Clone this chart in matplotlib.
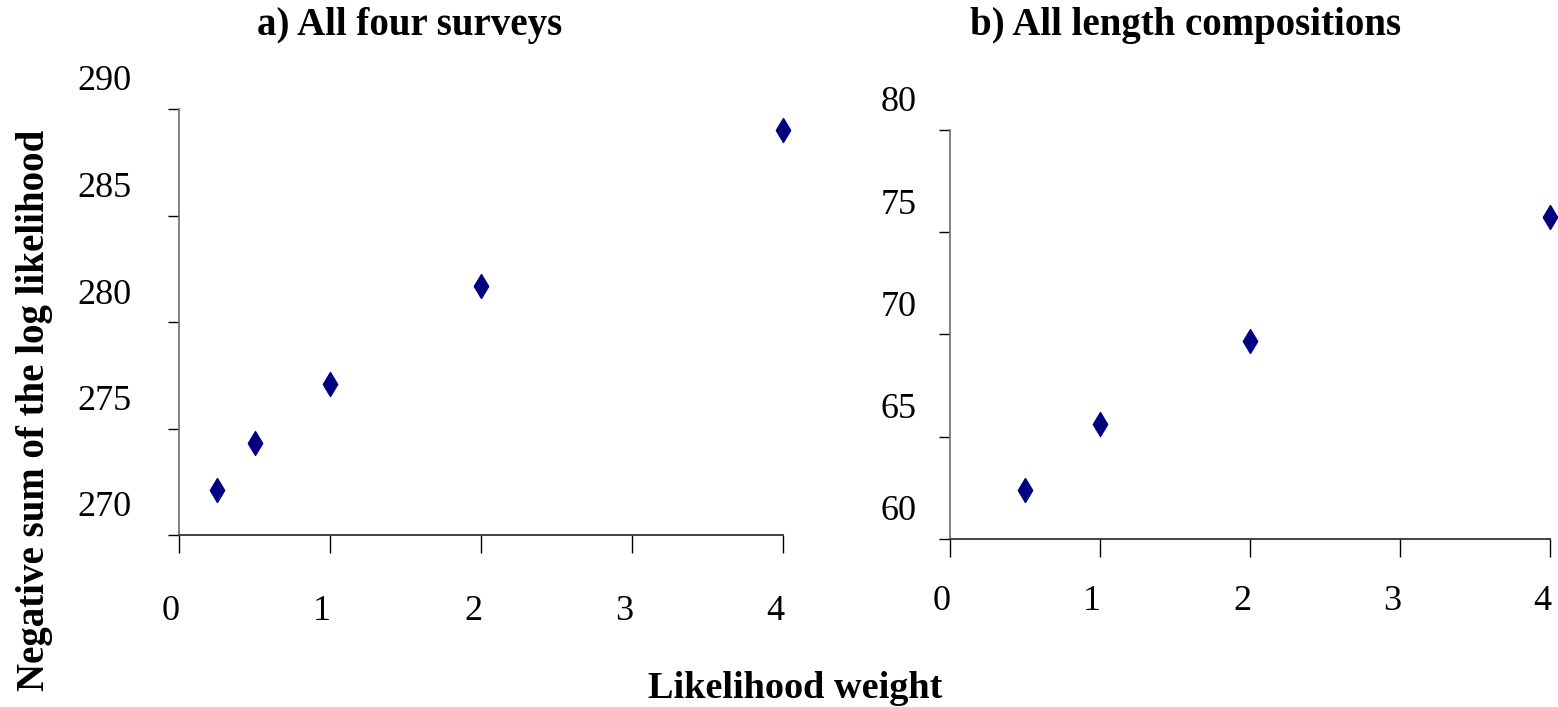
import matplotlib
matplotlib.use("Agg")
import matplotlib.pyplot as plt
import matplotlib.transforms as mtransforms

# panel a) all four surveys
weights_a = [0.25, 0.5, 1, 2, 4]
nll_a = [272.1, 274.3, 277.1, 281.7, 289.0]

# panel b) all length compositions
weights_b = [0.5, 1, 2, 4]
nll_b = [62.4, 65.6, 69.7, 75.75]

yticks_a = [270, 275, 280, 285, 290]
yticks_b = [60, 65, 70, 75, 80]
xticks = [0, 1, 2, 3, 4]

plt.rcParams['font.family'] = ['Liberation Serif', 'DejaVu Serif']

fig = plt.figure(figsize=(15.58, 7.07), dpi=100)
ax_a = fig.add_axes([179 / 1558, 1 - 535 / 707, 604 / 1558, 426 / 707])
ax_b = fig.add_axes([950 / 1558, 1 - 539 / 707, 600 / 1558, 409 / 707])


def style_axis(ax, yticks, ypad, xpad):
    ax.set_xlim(0, 4)
    ax.set_ylim(yticks[0], yticks[-1])
    ax.set_xticks(xticks)
    ax.set_yticks(yticks)
    ax.set_xticklabels([str(t) for t in xticks])
    ax.set_yticklabels([str(t) for t in yticks])
    for side in ['top', 'right']:
        ax.spines[side].set_visible(False)
    ax.spines['left'].set_color('#777777')
    ax.spines['bottom'].set_color('#333333')
    ax.spines['left'].set_linewidth(1.3)
    ax.spines['bottom'].set_linewidth(1.3)
    ax.tick_params(axis='y', direction='out', length=8, width=1, pad=ypad, labelsize=26)
    ax.tick_params(axis='x', direction='out', length=13, width=1, pad=xpad, labelsize=26)
    # Excel export puts the labels off the tick marks
    up = mtransforms.ScaledTranslation(0, 31 / 100, fig.dpi_scale_trans)
    for lbl in ax.get_yticklabels():
        lbl.set_transform(lbl.get_transform() + up)
    left = mtransforms.ScaledTranslation(-8 / 100, 0, fig.dpi_scale_trans)
    for lbl in ax.get_xticklabels():
        lbl.set_transform(lbl.get_transform() + left)


ax_a.scatter(weights_a, nll_a, marker='d', s=12.2 ** 2, color='#000080', clip_on=False, zorder=3)
ax_b.scatter(weights_b, nll_b, marker='d', s=12.2 ** 2, color='#000080', clip_on=False, zorder=3)

style_axis(ax_a, yticks_a, ypad=26, xpad=30)
style_axis(ax_b, yticks_b, ypad=16, xpad=20)

fig.text(410 / 1558, 1 - 25 / 707, 'a) All four surveys', ha='center', va='center',
         fontsize=28, fontweight='bold')
fig.text(1186 / 1558, 1 - 25 / 707, 'b) All length compositions', ha='center', va='center',
         fontsize=28, fontweight='bold')
fig.text(35 / 1558, 1 - 410 / 707, 'Negative sum of the log likelihood', rotation=90,
         ha='center', va='center', fontsize=28, fontweight='bold')
fig.text(795 / 1558, 1 - 688 / 707, 'Likelihood weight', ha='center', va='center',
         fontsize=27.5, fontweight='bold')

fig.savefig('out.png', dpi=100, facecolor='white')
